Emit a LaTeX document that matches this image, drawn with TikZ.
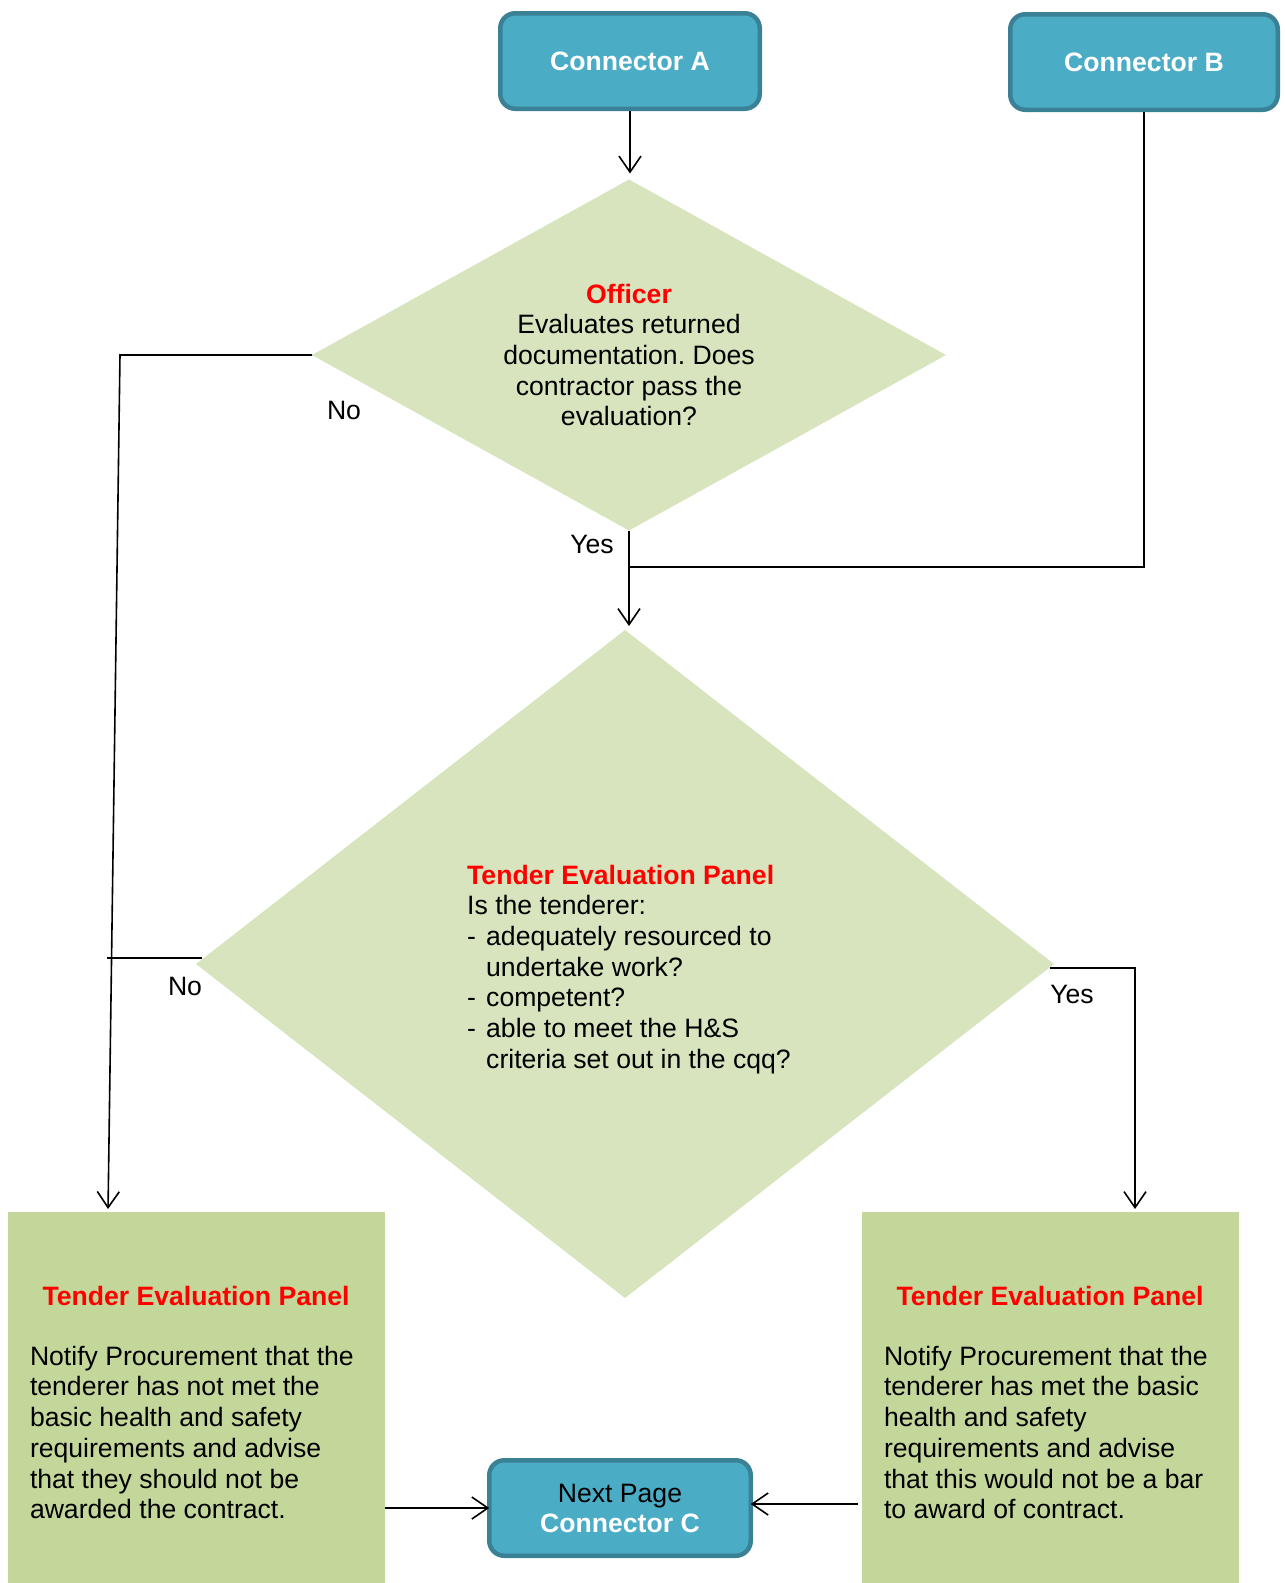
\documentclass[tikz,border=0pt]{standalone}
\usepackage{fontspec}
\setmainfont{Liberation Sans}
\usetikzlibrary{shapes.geometric,arrows.meta,calc}
\frenchspacing

\definecolor{tealfill}{HTML}{4BACC6}
\definecolor{tealedge}{HTML}{3A8196}
\definecolor{paledia}{HTML}{D7E4BD}
\definecolor{olivebox}{HTML}{C4D79B}
\definecolor{headred}{HTML}{FF0000}

\begin{document}
\begin{tikzpicture}[x=1pt,y=-1pt,
  every node/.style={font=\fontsize{26.6}{30.7}\selectfont, inner sep=0pt, outer sep=0pt},
  connbox/.style={draw=tealedge, fill=tealfill, line width=4.5pt, rounded corners=15pt,
    minimum height=95.5pt, align=center, text=white, font=\fontsize{26.6}{30}\selectfont\bfseries},
  decision/.style={diamond, fill=paledia, align=center},
  panel/.style={rectangle, fill=olivebox, minimum width=377pt, minimum height=371pt, anchor=north west},
  head/.style={text=headred, font=\fontsize{26.6}{30.7}\selectfont\bfseries},
  bodytext/.style={align=left, anchor=north west},
  line/.style={draw=black, line width=1.6pt},
  arr/.style={line, -{Straight Barb[length=16pt,width=22pt]}},
  lbl/.style={font=\fontsize{26.6}{30.7}\selectfont}
]
\useasboundingbox (0,0) rectangle (1285,1583);

% start connectors
\node[connbox, minimum width=259.5pt] (A) at (630,61) {Connector A};
\node[connbox, minimum width=267.5pt] (B) at (1144,62) {Connector B};

% first decision
\node[decision, aspect=1.81, minimum width=634pt, minimum height=351pt] (d1) at (629,355)
  {{\color{headred}\bfseries Officer}\\Evaluates returned\\documentation. Does\\contractor pass the\\evaluation?};

% second decision
\node[decision, aspect=1.28, minimum width=858pt, minimum height=668pt] (d2) at (625,964)
  {\raisebox{-6pt}[\height][\depth]{\begin{tabular}{@{\hspace{8pt}}l@{}}
   {\color{headred}\bfseries Tender Evaluation Panel}\\
   Is the tenderer:\\
   \makebox[19pt][l]{-}adequately resourced to\\
   \hspace*{19pt}undertake work?\\
   \makebox[19pt][l]{-}competent?\\
   \makebox[19pt][l]{-}able to meet the H\&S\\
   \hspace*{19pt}criteria set out in the cqq?
   \end{tabular}}};

% outcome panels
\node[panel] (L) at (8,1212) {};
\node[panel] (R) at (862,1212) {};
\node[head, anchor=base] (Lh) at (196,1305) {Tender Evaluation Panel};
\node[head, anchor=base] (Rh) at (1050,1305) {Tender Evaluation Panel};
\node[bodytext] (Lb) at (30,1346) {Notify Procurement that the\\tenderer has not met the\\basic health and safety\\requirements and advise\\that they should not be\\awarded the contract.};
\node[bodytext] (Rb) at (884,1346) {Notify Procurement that the\\tenderer has met the basic\\health and safety\\requirements and advise\\that this would not be a bar\\to award of contract.};

% end connector
\node[connbox, minimum width=261.5pt] (C) at (620,1508)
  {\textcolor{black}{\mdseries Next Page}\\Connector C};

% flow lines
\draw[arr, shorten <=2.5pt, shorten >=6pt] (A.south) -- (A.south |- d1.north);
\coordinate (nobend) at (120,355);
\draw[arr, shorten >=3pt] (d1.west) -- (nobend) -- ($(L.north west)+(100,0)$);
\draw[arr, shorten >=4pt] (d1.south) -- (d1.south |- d2.north);
\coordinate (join) at (629,567);
\draw[line, shorten <=2.5pt] (B.south) |- (join);
\draw[line] ($(d2.west)+(6,-6)$) -- ($(d2.west)+(-89,-6)$);
\draw[arr, shorten >=3pt] ($(d2.east)+(-4,4)$) -| ($(R.north west)+(273,0)$);
\draw[arr] (L.east |- C.west) -- (C.west);
\draw[arr] ($(R.west |- C.east)+(-4,-4)$) -- ($(C.east)+(0,-4)$);

% branch labels
\node[lbl] (no1) at (344,410) {No};
\node[lbl] (yes1) at (592,544) {Yes};
\node[lbl] (no2) at (185,986) {No};
\node[lbl] (yes2) at (1072,994) {Yes};
\end{tikzpicture}
\end{document}
